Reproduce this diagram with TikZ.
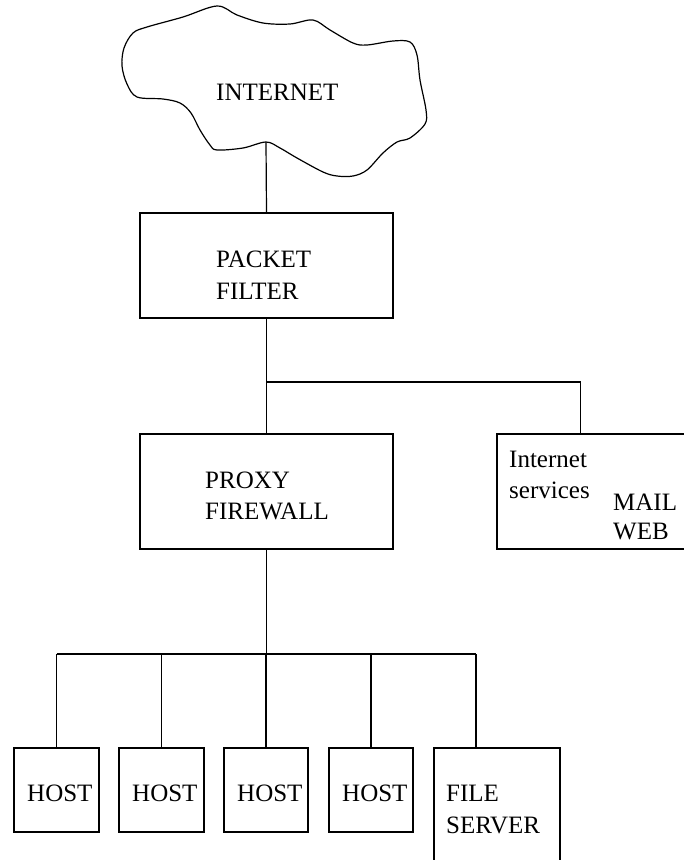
\documentclass[tikz,border=0pt]{standalone}
\usepackage{fontspec}
\setmainfont{Liberation Serif}
\begin{document}
\begin{tikzpicture}[x=1pt,y=-1pt,
  box/.style={draw,line width=1.2pt,inner sep=0pt,rectangle},
  txt/.style={anchor=base west,inner sep=0pt,font=\fontsize{25}{30}\selectfont},
  wire/.style={line width=1.2pt}]
\useasboundingbox (0,0) rectangle (684,860);
\clip (0,0) rectangle (684,860);

% cloud outline
\draw[line width=1.2pt] plot[smooth cycle,tension=0.55] coordinates {
  (217,6) (237,15) (263,23) (290,24) (313,20) (330,30) (353,43) (367,45)
  (393,41) (410,42) (417,55) (420,80) (426,110) (425,124) (410,138)
  (397,142) (383,153) (367,170) (353,176) (337,176) (323,172) (297,158)
  (280,148) (266,142) (243,148) (217,150) (210,145) (200,130) (191,113)
  (180,103) (163,99) (137,97) (127,84) (122,66) (124,48) (133,33)
  (147,27) (183,17)};
\coordinate (cloudfoot) at (266,142);
\node[txt] (internet) at (216,100) {INTERNET};

% packet filter
\node[box,minimum width=253pt,minimum height=105pt] (pf) at (266.5,265.5) {};
\node[txt] (pf1) at (216,267) {PACKET};
\node[txt] (pf2) at (216,299) {FILTER};

% proxy firewall
\node[box,minimum width=253pt,minimum height=115pt] (px) at (266.5,491.5) {};
\node[txt] (px1) at (205,488) {PROXY};
\node[txt] (px2) at (205,519) {FIREWALL};

% internet services
\node[box,minimum width=203pt,minimum height=115pt] (svc) at (598.5,491.5) {};
\node[txt] (svc1) at (509,467) {Internet};
\node[txt] (svc2) at (509,498) {services};
\node[txt] (svc3) at (613,510) {MAIL};
\node[txt] (svc4) at (613,539) {WEB};

% hosts
\node[box,minimum width=85pt,minimum height=84pt] (h1) at (56.5,790) {};
\node[box,minimum width=85pt,minimum height=84pt] (h2) at (161.5,790) {};
\node[box,minimum width=84pt,minimum height=84pt] (h3) at (266,790) {};
\node[box,minimum width=84pt,minimum height=84pt] (h4) at (371,790) {};
\node[txt] (h1t) at (27,801) {HOST};
\node[txt] (h2t) at (132,801) {HOST};
\node[txt] (h3t) at (237,801) {HOST};
\node[txt] (h4t) at (342,801) {HOST};

% file server
\node[box,minimum width=126pt,minimum height=140pt] (fs) at (497,818) {};
\node[txt] (fs1) at (446,801) {FILE};
\node[txt] (fs2) at (446,833) {SERVER};

% junction points
\coordinate (split) at (266.5,382);
\coordinate (svcturn) at (580.5,382);
\coordinate (bus) at (266.5,654);
\coordinate (busend) at (476,654);

% connectors
\draw[wire] (cloudfoot) -- (pf.north);
\draw[wire] (pf.south) -- (split) -- (px.north);
\draw[wire] (split) -- (svcturn) -- (svcturn |- svc.north);
\draw[wire] (px.south) -- (bus);
\draw[wire] (h1.north |- bus) -- (busend);
\foreach \n in {h1,h2,h3,h4}
  \draw[wire] (\n.north |- bus) -- (\n.north);
\draw[wire] (busend) -- (busend |- fs.north);
\end{tikzpicture}
\end{document}
